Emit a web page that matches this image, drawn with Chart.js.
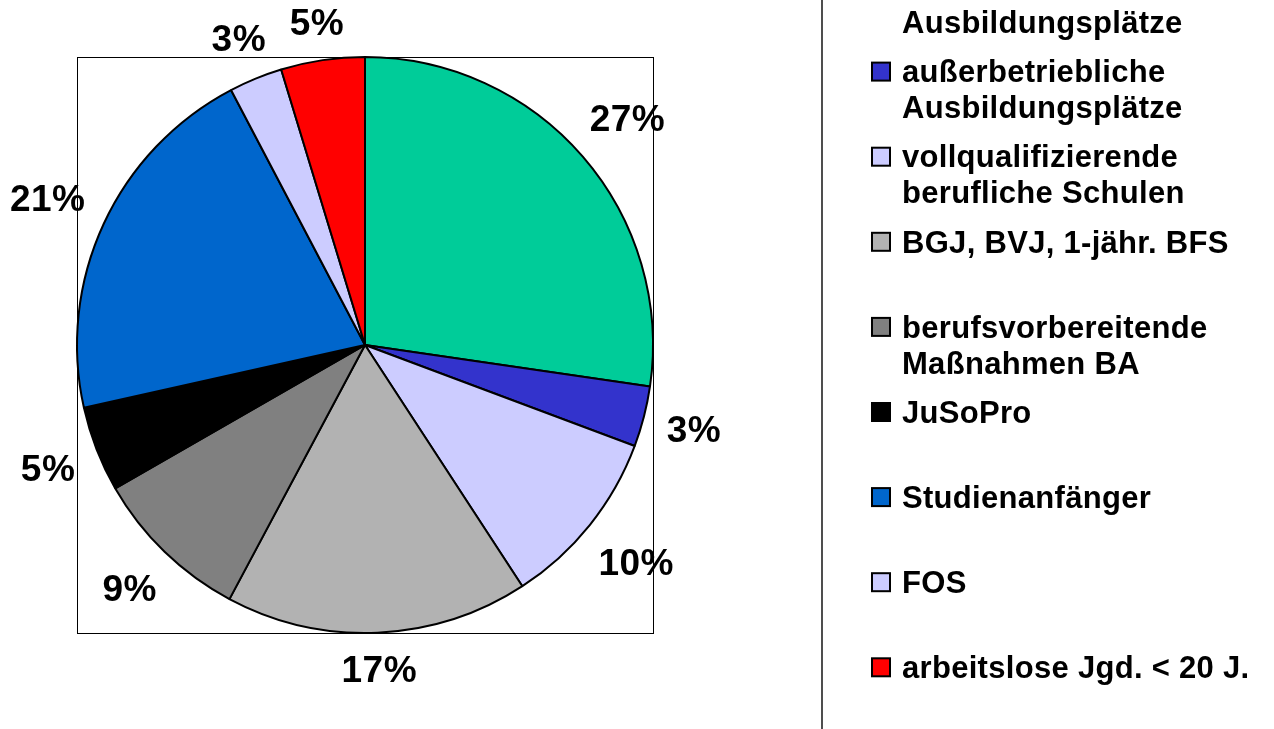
<!DOCTYPE html>
<html>
<head>
<meta charset="utf-8">
<script src="https://cdn.jsdelivr.net/npm/chart.js@4/dist/chart.umd.min.js"></script>
<style>
  html, body { margin: 0; padding: 0; background: #fff; }
  canvas { display: block; }
</style>
</head>
<body>
<canvas id="pie" width="1274" height="729"></canvas>
<script>
// shares in percent, clockwise from 12 o'clock
const LABELS = [
  ["betriebliche", "Ausbildungsplätze"],
  ["außerbetriebliche", "Ausbildungsplätze"],
  ["vollqualifizierende", "berufliche Schulen"],
  ["BGJ, BVJ, 1-jähr. BFS"],
  ["berufsvorbereitende", "Maßnahmen BA"],
  ["JuSoPro"],
  ["Studienanfänger"],
  ["FOS"],
  ["arbeitslose Jgd. < 20 J."]
];
const VALUES = [27.3, 3.4, 10.1, 17.0, 8.9, 4.8, 20.8, 3.0, 4.7];
const COLORS = ["#00CC99", "#3333CC", "#CCCCFF", "#B2B2B2", "#808080", "#000000", "#0066CC", "#CCCCFF", "#FF0000"];

const FONT = '"Liberation Sans", Arial, sans-serif';

function qs(s){ return document.querySelector(s); }

// percent labels outside the slices, legend on the right, plot box
const decor = {
  id: "decor",
  afterDatasetsDraw(chart){
    const ctx = chart.ctx;
    const meta = chart.getDatasetMeta(0);
    const vals = chart.data.datasets[0].data;
    ctx.save();

    // labels
    ctx.fillStyle = "#000";
    ctx.font = "bold 37px " + FONT;
    ctx.letterSpacing = "0.5px";
    ctx.textAlign = "center";
    ctx.textBaseline = "alphabetic";
    const capH = 0.716 * 36;
    meta.data.forEach((arc, i) => {
      const mid = (arc.startAngle + arc.endAngle) / 2;
      const dx = Math.cos(mid), dy = Math.sin(mid);
      const txt = Math.round(vals[i]) + "%";
      const w = ctx.measureText(txt).width;
      const ext = Math.abs(dx) * w / 2 + Math.abs(dy) * capH / 2;
      const r = arc.outerRadius + 22 + ext;
      ctx.fillText(txt, arc.x + dx * r, arc.y + dy * r + capH / 2);
    });

    // plot box
    const a = chart.chartArea;
    ctx.strokeStyle = "#000";
    ctx.lineWidth = 1;
    ctx.strokeRect(a.left + 0.5, a.top + 0.5, a.width, a.width);

    // legend frame edge
    ctx.strokeStyle = "#222";
    ctx.lineWidth = 1.6;
    ctx.beginPath();
    ctx.moveTo(822, 0);
    ctx.lineTo(822, 729);
    ctx.stroke();

    // legend
    ctx.font = "bold 31px " + FONT;
    ctx.letterSpacing = "0.3px";
    ctx.textAlign = "left";
    const lh = 36, step = 85.1, y0 = -13.5;
    const legCap = 0.716 * 30;
    chart.data.labels.forEach((lines, i) => {
      const y = y0 + i * step;
      ctx.fillStyle = COLORS[i];
      ctx.fillRect(872, y - 9, 18, 18);
      ctx.strokeStyle = "#000";
      ctx.lineWidth = 2;
      ctx.strokeRect(872, y - 9, 18, 18);
      ctx.fillStyle = "#000";
      lines.forEach((t, k) => ctx.fillText(t, 902, y + k * lh + legCap / 2));
    });

    ctx.restore();
  }
};

new Chart(qs("#pie"), {
  type: "pie",
  data: {
    labels: LABELS,
    datasets: [{
      data: VALUES,
      backgroundColor: COLORS,
      borderColor: "#000",
      borderWidth: 2,
      radius: 288
    }]
  },
  options: {
    responsive: false,
    animation: false,
    layout: { padding: { left: 77, top: 57, right: 621, bottom: 96 } },
    plugins: { legend: { display: false }, tooltip: { enabled: false } }
  },
  plugins: [decor]
});
</script>
</body>
</html>
